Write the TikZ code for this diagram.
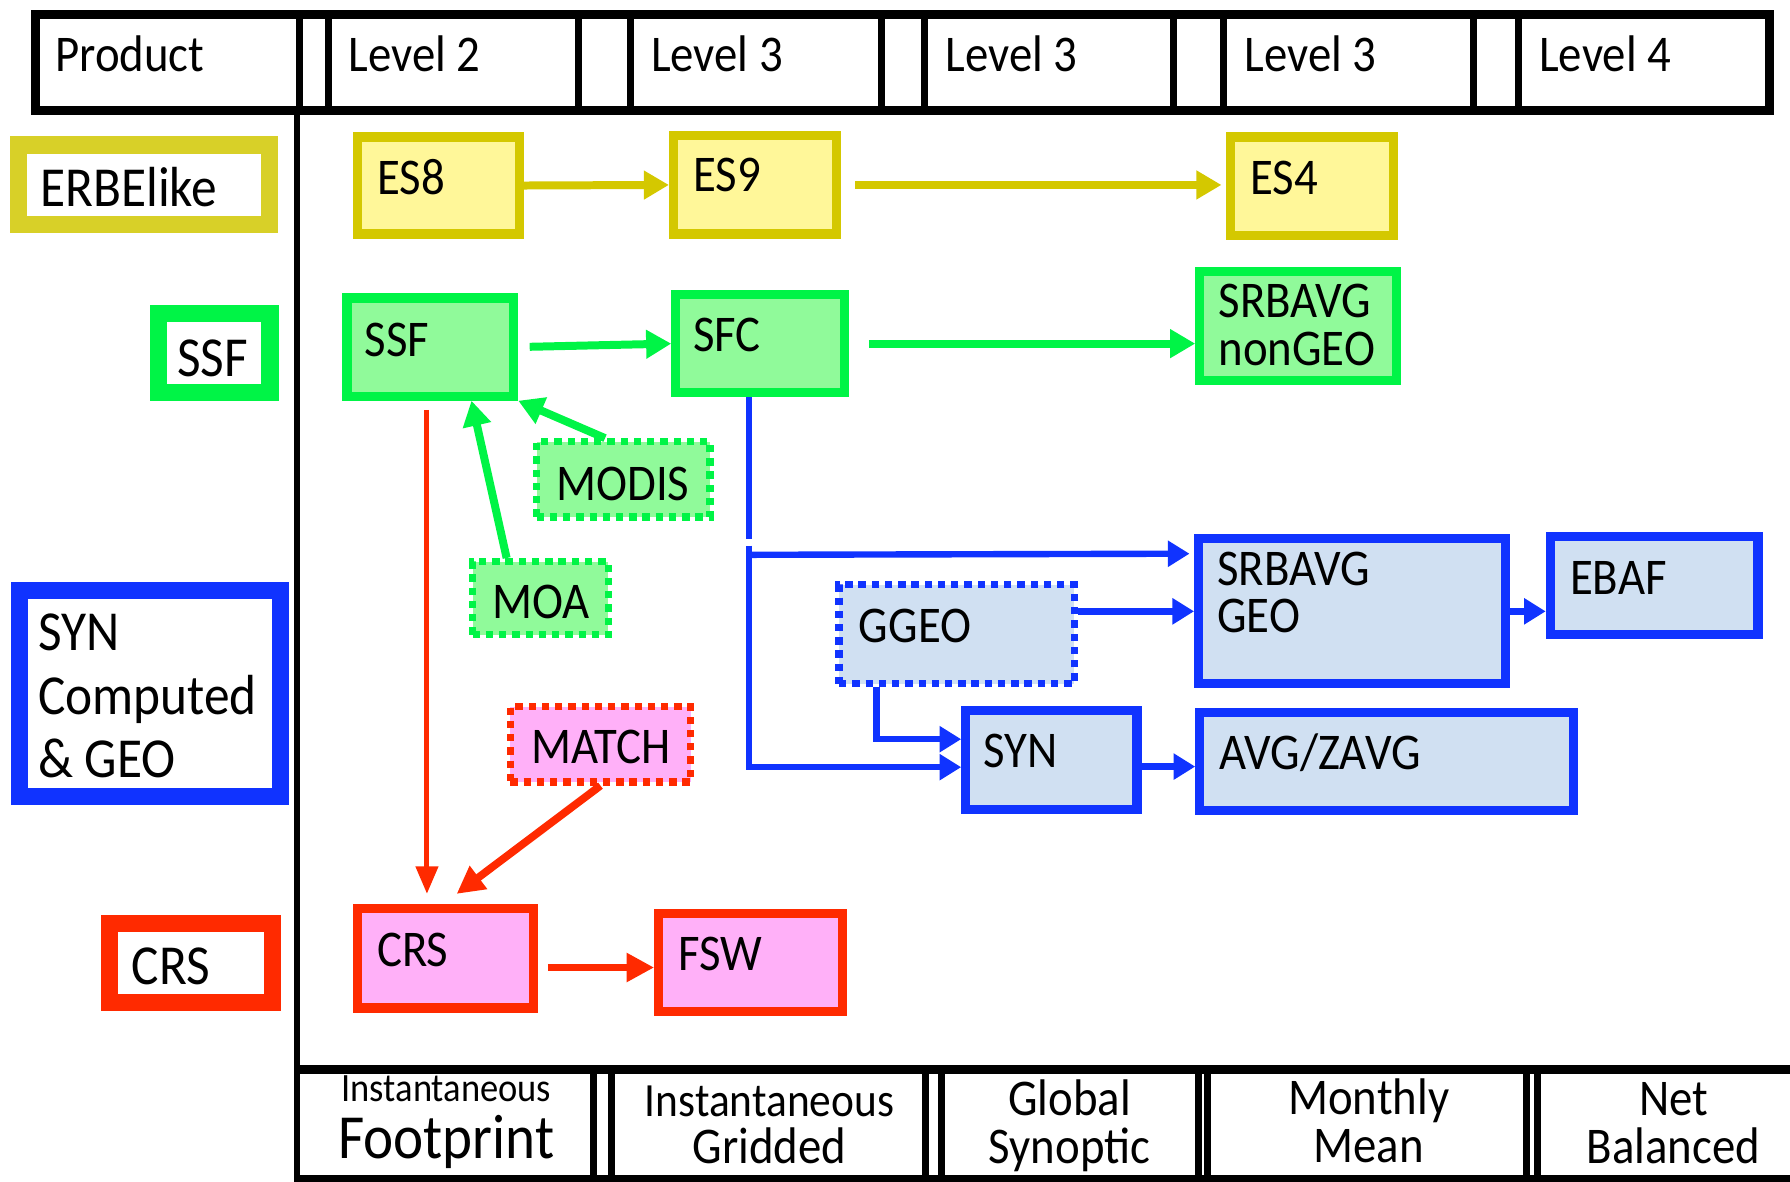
\documentclass[tikz,border=0pt]{standalone}
\usepackage{fontspec}
\setmainfont{Carlito}
\usetikzlibrary{arrows.meta,fit,calc}
\definecolor{ylwB}{HTML}{D4C800}
\definecolor{ylwL}{HTML}{D8D028}
\definecolor{ylwF}{HTML}{FFF799}
\definecolor{grnB}{HTML}{00F446}
\definecolor{grnF}{HTML}{90FA9A}
\definecolor{bluB}{HTML}{1033FF}
\definecolor{bluF}{HTML}{D0E0F2}
\definecolor{redB}{HTML}{FF2A00}
\definecolor{redF}{HTML}{FFB0F8}
\newcommand\vstr[1]{\scalebox{1}[1.1]{#1}}
\begin{document}
\begin{tikzpicture}[x=0.5pt,y=-0.5pt,
  pbox/.style={draw, line width=4pt, inner sep=0pt, rectangle},
  ybox/.style={pbox, draw=ylwB, fill=ylwF},
  gbox/.style={pbox, draw=grnB, fill=grnF},
  bbox/.style={pbox, draw=bluB, fill=bluF},
  rbox/.style={pbox, draw=redB, fill=redF},
  dotbox/.style={line width=3.2pt, dash pattern=on 3.2pt off 2.6pt},
  legbox/.style={draw, line width=7.5pt, inner sep=0pt, fill=white},
  lbl/.style={anchor=base west, inner sep=0pt, font=\fontsize{20.5}{24}\selectfont},
  lgtxt/.style={anchor=base west, inner sep=0pt, font=\fontsize{22.5}{27}\selectfont},
  ftr/.style={anchor=base, inner sep=0pt, font=\fontsize{20.5}{24}\selectfont},
  yarr/.style={draw=ylwB, line width=3.5pt, -{Triangle[length=11pt,width=12pt]}},
  garr/.style={draw=grnB, line width=3.5pt, -{Triangle[length=11pt,width=12pt]}},
  barr/.style={draw=bluB, line width=2.8pt, -{Triangle[length=9.5pt,width=11pt]}},
  bline/.style={draw=bluB, line width=2.8pt},
  rarr/.style={draw=redB, line width=3.4pt, -{Triangle[length=12pt,width=12pt]}},
  rarrv/.style={draw=redB, line width=2.2pt, -{Triangle[length=12pt,width=9.5pt]}},
  grid/.style={line width=3pt},
]
\useasboundingbox (0,0) rectangle (1568,1035);

% ---------- header ----------
\draw[line width=4pt] (31,13) rectangle (1550,97);
\foreach \x in {262,288,507,552,772,810,1028,1072,1291,1330}
  \draw[grid] (\x,13) -- (\x,97);
\node[lbl] (h0) at (48,63) {\vstr{Product}};
\node[lbl] (h1) at (305,63) {\vstr{Level 2}};
\node[lbl] (h2) at (570,63) {\vstr{Level 3}};
\node[lbl] (h3) at (828,63) {\vstr{Level 3}};
\node[lbl] (h4) at (1090,63) {\vstr{Level 3}};
\node[lbl] (h5) at (1348,63) {\vstr{Level 4}};

% ---------- main vertical ----------
\draw[line width=2.5pt] (260,97) -- (260,1035);

% ---------- footer ----------
\draw[line width=4pt] (258,937) -- (1568,937);
\draw[grid] (258,1032) -- (1568,1032);
\foreach \x in {520,536,811,825,1050,1058,1337,1347}
  \draw[grid] (\x,937) -- (\x,1032);
\node[ftr, font=\fontsize{16}{19}\selectfont] (f1a) at (391,965) {\vstr{Instantaneous}};
\node[ftr, font=\fontsize{25}{30}\selectfont] (f1b) at (391,1015) {\vstr{Footprint}};
\node[ftr, font=\fontsize{19}{23}\selectfont] (f2a) at (674,978) {\vstr{Instantaneous}};
\node[ftr] (f2b) at (674,1019) {\vstr{Gridded}};
\node[ftr] (f3a) at (937,977) {\vstr{Global}};
\node[ftr] (f3b) at (937,1019) {\vstr{Synoptic}};
\node[ftr] (f4a) at (1199,976) {\vstr{Monthly}};
\node[ftr] (f4b) at (1199,1018) {\vstr{Mean}};
\node[ftr] (f5a) at (1466,977) {\vstr{Net}};
\node[ftr] (f5b) at (1466,1019) {\vstr{Balanced}};

% ---------- legend ----------
\node[legbox, draw=ylwL, fit={(16,127)(236,197)}] (lerbe) {};
\node[legbox, draw=grnB, fit={(138.5,274.5)(236.5,343.5)}] (lssf) {};
\node[legbox, draw=bluB, fit={(17,517)(246,698)}] (lsyn) {};
\node[legbox, draw=redB, fit={(96,809)(239,878)}] (lcrs) {};
\node[lgtxt] (terbe) at (35,181) {\vstr{ERBElike}};
\node[lgtxt] (tssf) at (155,330) {\vstr{SSF}};
\node[lgtxt] (tsyn1) at (33,570) {\vstr{SYN}};
\node[lgtxt] (tsyn2) at (33,626) {\vstr{Computed}};
\node[lgtxt] (tsyn3) at (33,681) {\vstr{\& GEO}};
\node[lgtxt] (tcrs) at (115,862) {\vstr{CRS}};

% ---------- boxes ----------
\node[ybox, fit={(313,120)(455,205)}] (es8) {};
\node[ybox, fit={(590,119)(733,205)}] (es9) {};
\node[ybox, fit={(1078,120)(1221,206)}] (es4) {};
\node[gbox, fit={(304,261)(450,347)}] (ssf) {};
\node[gbox, fit={(592,258)(740,344)}] (sfc) {};
\node[gbox, fit={(1051,238)(1223,333)}] (srbn) {};
\node[gbox, dotbox, fit={(470,387)(622,453)}] (modis) {};
\node[gbox, dotbox, fit={(414,492)(533,556)}] (moa) {};
\node[bbox, dotbox, fit={(735,512)(941,599)}] (ggeo) {};
\node[bbox, fit={(1050,472)(1319,599)}] (srbg) {};
\node[bbox, fit={(1358,470)(1540,556)}] (ebaf) {};
\node[bbox, fit={(846,622)(996,709)}] (syn) {};
\node[bbox, fit={(1051,624)(1378,710)}] (avg) {};
\node[rbox, dotbox, fit={(447,619)(605,685)}] (match) {};
\node[rbox, fit={(313,796)(467,883)}] (crs) {};
\node[rbox, fit={(577,800)(738,886)}] (fsw) {};

% ---------- box texts ----------
\node[lbl] (tes8) at (330,170) {\vstr{ES8}};
\node[lbl] (tes9) at (607,168) {\vstr{ES9}};
\node[lbl] (tes4) at (1095,170) {\vstr{ES4}};
\node[lbl] (tssf2) at (319,312) {\vstr{SSF}};
\node[lbl] (tsfc) at (607,308) {\vstr{SFC}};
\node[lbl] (tsrbn1) at (1067,278) {\vstr{SRBAVG}};
\node[lbl] (tsrbn2) at (1067,320) {\vstr{nonGEO}};
\node[lbl] (tmodis) at (487,438) {\vstr{MODIS}};
\node[lbl] (tmoa) at (431,542) {\vstr{MOA}};
\node[lbl] (tggeo) at (752,563) {\vstr{GGEO}};
\node[lbl] (tsrbg1) at (1066,513) {\vstr{SRBAVG}};
\node[lbl] (tsrbg2) at (1066,554) {\vstr{GEO}};
\node[lbl] (tebaf) at (1375,521) {\vstr{EBAF}};
\node[lbl] (tsyn) at (861,672) {\vstr{SYN}};
\node[lbl] (tavg) at (1068,674) {\vstr{AVG/ZAVG}};
\node[lbl] (tmatch) at (465,669) {\vstr{MATCH}};
\node[lbl] (tcrs2) at (330,847) {\vstr{CRS}};
\node[lbl] (tfsw) at (594,850) {\vstr{FSW}};

% ---------- arrows ----------
\draw[yarr] (es8.east) -- (es9.west);
\draw[yarr, shorten <=6pt, shorten >=2pt] (es9.east) -- (es9.east -| es4.west);
\draw[garr, shorten <=5pt] (ssf.east) -- (sfc.west);
\draw[garr, shorten <=8.5pt] (sfc.east) -- (sfc.east -| srbn.west);
\draw[garr] ([xshift=-8pt]modis.north) -- (ssf.south east);
\draw[garr] ([xshift=16.5pt]moa.north west) -- ([xshift=18pt]ssf.south);

\draw[rarrv, shorten >=4.5pt] ([xshift=-1.5pt,yshift=-4pt]ssf.south) -- ([xshift=-1.5pt]ssf.south |- crs.north);
\draw[rarr] (match.south) -- ([xshift=5pt,yshift=4.5pt]crs.north);
\draw[rarr, shorten <=4.5pt] ([yshift=-4pt]crs.east) -- ([yshift=-4pt]crs.east -| fsw.west);

\coordinate (j1) at (656,472);
\coordinate (j2) at (656,478);
\coordinate (j3) at (656,486);
\coordinate (j4) at (656,672);
\draw[bline] ([xshift=-5pt]sfc.south) -- (j1);
\draw[barr] (j2) -- (j4) -- (j4 -| syn.west);
\draw[barr, shorten >=2pt] (j3) -- ([yshift=-8.5pt]srbg.north west);
\draw[barr] ([yshift=10pt]ggeo.east) -- ([yshift=10pt]ggeo.east -| srbg.west);
\draw[barr] ([xshift=18pt]ggeo.south west) |- ([yshift=9pt]syn.west);
\draw[barr] ([yshift=-3pt]syn.east) -- ([yshift=-3pt]syn.east -| avg.west);
\draw[barr] (srbg.east) -- (srbg.east -| ebaf.west);
\end{tikzpicture}
\end{document}
